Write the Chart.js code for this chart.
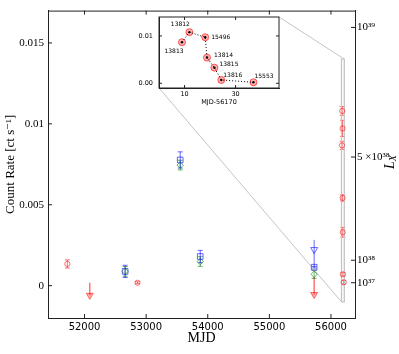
<!DOCTYPE html>
<html>
<head>
<meta charset="utf-8">
<script src="https://cdn.jsdelivr.net/npm/chart.js@4"></script>
<style>
  body { margin: 0; background: #fff; }
  #wrap { position: relative; width: 399px; height: 354px; }
  #main { position: absolute; left: 0; top: 0; }
  #inset { position: absolute; left: 130px; top: 0; }
</style>
</head>
<body>
<div id="wrap">
  <canvas id="main" width="399" height="354"></canvas>
  <canvas id="inset" width="160" height="110"></canvas>
</div>
<script>
// axis ticks
const xTicks = [52000, 53000, 54000, 55000, 56000];
const yTicks = [0, 0.005, 0.01, 0.015];
const yTickLabels = ["0", "0.005", "0.01", "0.015"];
const lxTickRates = [0.00018, 0.00157, 0.00795, 0.01596];
const lxTickLabels = ["10\u00b3\u2077", "10\u00b3\u2078", "5 \u00d710\u00b3\u2078", "10\u00b3\u2079"];

// red detections
const redMjd = [51721, 52860];
const redRate = [0.00134, 0.00018];
const redErr = [0.00025, 0.00006];

// red upper limits (top of arrow, arrow head, end of shaft)
const redUlMjd = [52085, 55727];
const redUlTop = [0.00018, 0.0005];
const redUlHead = [-0.0006, -0.00055];

// blue
const blueMjd = [52659, 53553, 53878, 55727];
const blueRate = [0.00088, 0.00777, 0.0018, 0.00114];
const blueErr = [0.00038, 0.0005, 0.00038, 0.00005];
const blueUlMjd = [55727];
const blueUlTop = [0.00283];
const blueUlHead = [0.00223];
const blueUlEnd = [0.00114];

// green
const greenMjd = [52659, 53553, 53878, 55727];
const greenRate = [0.00088, 0.00745, 0.00149, 0.0007];
const greenErr = [0.0003, 0.0003, 0.0003, 0.00025];

// 2012 observations, days after MJD 56170
const mjdZero = 56170;
const obsIds = ["13813", "13812", "15496", "13814", "13815", "13816", "15553"];
const obsDay = [9.0, 11.9, 18.1, 18.8, 21.7, 24.4, 37.0];
const obsRate = [0.00867, 0.0108, 0.00972, 0.00542, 0.0033, 0.0007, 0.00021];
const obsErr = [0.00025, 0.00027, 0.0005, 0.0002, 0.0003, 0.0001, 0.0001];

// inset axes
const insetXMin = 0, insetXMax = 47;
const insetYMin = -0.001, insetYMax = 0.014;
const insetXTicks = [10, 30];
const insetYTicks = [0, 0.01];

const INSET_LEFT = 130, INSET_TOP = 0;
const serif = "'Liberation Serif', 'DejaVu Serif', serif";
const sans = "'DejaVu Sans', sans-serif";

const RED = "rgba(255,0,0,0.55)";
const BLUE = "rgba(0,0,255,0.6)";
const GREEN = "rgba(0,128,0,0.6)";

function pts(xs, ys) {
  return xs.map((x, i) => ({ x: x, y: ys[i] }));
}

// error bars + upper-limit shafts, drawn through the scales
const errorBars = {
  id: "errorBars",
  beforeDatasetsDraw(chart) {
    const { ctx, scales } = chart;
    ctx.save();
    chart.data.datasets.forEach((ds) => {
      ctx.strokeStyle = ds.borderColor;
      ctx.lineWidth = ds.barWidth || 1;
      if (ds.yErr) {
        ds.data.forEach((p, i) => {
          const px = scales.x.getPixelForValue(p.x);
          const y1 = scales.y.getPixelForValue(p.y - ds.yErr[i]);
          const y2 = scales.y.getPixelForValue(p.y + ds.yErr[i]);
          ctx.beginPath();
          ctx.moveTo(px, y1); ctx.lineTo(px, y2);
          ctx.moveTo(px - 2.5, y1); ctx.lineTo(px + 2.5, y1);
          ctx.moveTo(px - 2.5, y2); ctx.lineTo(px + 2.5, y2);
          ctx.stroke();
        });
      }
      if (ds.ulTop) {
        ds.data.forEach((p, i) => {
          const px = scales.x.getPixelForValue(p.x);
          const end = ds.ulEnd ? ds.ulEnd[i] : p.y;
          ctx.beginPath();
          ctx.moveTo(px, scales.y.getPixelForValue(ds.ulTop[i]));
          ctx.lineTo(px, scales.y.getPixelForValue(end));
          ctx.stroke();
        });
      }
    });
    ctx.restore();
  }
};

const insetChart = new Chart(document.getElementById("inset"), {
  type: "scatter",
  data: {
    datasets: [
      {
        data: pts(obsDay, obsRate),
        showLine: true,
        borderColor: "#000",
        borderWidth: 1,
        borderDash: [1, 2],
        pointRadius: 1.2,
        pointBackgroundColor: "#000",
        pointBorderWidth: 0,
        order: 0,
      },
      {
        data: pts(obsDay, obsRate),
        pointRadius: 3.5,
        pointBackgroundColor: "rgba(255,0,0,0.3)",
        pointBorderColor: "rgba(255,0,0,0.6)",
        pointBorderWidth: 1,
        order: 1,
      },
    ],
  },
  options: {
    responsive: false,
    animation: false,
    layout: { padding: { top: 17, right: 11 } },
    plugins: { legend: { display: false }, tooltip: { enabled: false } },
    scales: {
      x: {
        type: "linear", min: insetXMin, max: insetXMax,
        afterBuildTicks: (s) => { s.ticks = insetXTicks.map((v) => ({ value: v })); },
        afterFit: (s) => { s.height = 22; },
        grid: { display: false, drawTicks: false },
        border: { color: "#222" },
        ticks: { font: { family: sans, size: 6.5 }, color: "#000", padding: 2, maxRotation: 0 },
        title: { display: true, text: "MJD-56170", font: { family: sans, size: 6.5 }, color: "#000", padding: { bottom: 4 } },
      },
      y: {
        min: insetYMin, max: insetYMax,
        afterBuildTicks: (s) => { s.ticks = insetYTicks.map((v) => ({ value: v })); },
        afterFit: (s) => { s.width = 29; },
        grid: { display: false, drawTicks: false },
        border: { color: "#222" },
        ticks: { font: { family: sans, size: 6.5 }, color: "#000", padding: 6, callback: (v) => v.toFixed(2) },
      },
    },
  },
  plugins: [
    {
      id: "insetBox",
      beforeDraw(chart) {
        const a = chart.chartArea;
        chart.ctx.save();
        chart.ctx.fillStyle = "#fff";
        chart.ctx.fillRect(a.left, a.top, a.right - a.left, a.bottom - a.top);
        chart.ctx.restore();
      },
      afterDraw(chart) {
        const { ctx, chartArea: a, scales } = chart;
        ctx.save();
        ctx.strokeStyle = "#222";
        ctx.lineWidth = 1;
        ctx.strokeRect(a.left, a.top, a.right - a.left, a.bottom - a.top);
        ctx.beginPath();
        insetXTicks.forEach((v) => {
          const px = scales.x.getPixelForValue(v);
          ctx.moveTo(px, a.bottom); ctx.lineTo(px, a.bottom - 3);
          ctx.moveTo(px, a.top); ctx.lineTo(px, a.top + 3);
        });
        insetYTicks.forEach((v) => {
          const py = scales.y.getPixelForValue(v);
          ctx.moveTo(a.left, py); ctx.lineTo(a.left + 3, py);
          ctx.moveTo(a.right, py); ctx.lineTo(a.right - 3, py);
        });
        ctx.stroke();
        // observation ids
        const offs = [[-8, 9, "center"], [-9, -8, "center"], [6, 0, "left"], [7, -2, "left"],
                      [5, -3, "left"], [2, -5, "left"], [1, -6, "left"]];
        ctx.fillStyle = "#000";
        ctx.font = "6px " + sans;
        ctx.textBaseline = "middle";
        obsIds.forEach((id, i) => {
          const px = scales.x.getPixelForValue(obsDay[i]);
          const py = scales.y.getPixelForValue(obsRate[i]);
          ctx.textAlign = offs[i][2];
          ctx.fillText(id, px + offs[i][0], py + offs[i][1]);
        });
        ctx.restore();
      },
    },
  ],
});

const mainChart = new Chart(document.getElementById("main"), {
  type: "scatter",
  data: {
    datasets: [
      {
        data: pts(obsDay.map((d) => mjdZero + d), obsRate),
        yErr: obsErr,
        borderColor: RED,
        pointStyle: "circle",
        pointRadius: 2.6,
        pointBackgroundColor: "rgba(0,0,0,0)",
        pointBorderColor: RED,
        pointBorderWidth: 1,
      },
      {
        data: pts(redMjd, redRate),
        yErr: redErr,
        borderColor: RED,
        pointStyle: "circle",
        pointRadius: 2.6,
        pointBackgroundColor: "rgba(0,0,0,0)",
        pointBorderColor: RED,
        pointBorderWidth: 1,
      },
      {
        data: pts(redUlMjd, redUlHead),
        ulTop: redUlTop,
        borderColor: RED,
        barWidth: 1.5,
        pointStyle: "triangle",
        rotation: 180,
        pointRadius: 4,
        pointBackgroundColor: "rgba(255,0,0,0.3)",
        pointBorderColor: RED,
        pointBorderWidth: 1,
      },
      {
        data: pts(greenMjd, greenRate),
        yErr: greenErr,
        borderColor: GREEN,
        pointStyle: "rectRot",
        pointRadius: 3.2,
        pointBackgroundColor: "rgba(0,0,0,0)",
        pointBorderColor: GREEN,
        pointBorderWidth: 1,
      },
      {
        data: pts(blueMjd, blueRate),
        yErr: blueErr,
        borderColor: BLUE,
        pointStyle: "rect",
        pointRadius: 4,
        pointBackgroundColor: "rgba(0,0,0,0)",
        pointBorderColor: BLUE,
        pointBorderWidth: 1,
      },
      {
        data: pts(blueUlMjd, blueUlHead),
        ulTop: blueUlTop,
        ulEnd: blueUlEnd,
        borderColor: BLUE,
        pointStyle: "triangle",
        rotation: 180,
        pointRadius: 4,
        pointBackgroundColor: "rgba(0,0,0,0)",
        pointBorderColor: BLUE,
        pointBorderWidth: 1,
      },
    ],
  },
  options: {
    responsive: false,
    animation: false,
    layout: { padding: { top: 3 } },
    plugins: { legend: { display: false }, tooltip: { enabled: false } },
    scales: {
      x: {
        type: "linear", min: 51407, max: 56390,
        afterBuildTicks: (s) => { s.ticks = xTicks.map((v) => ({ value: v })); },
        afterFit: (s) => { s.height = 36; },
        grid: { display: false, drawTicks: false },
        border: { color: "#222" },
        ticks: { font: { family: sans, size: 10 }, color: "#000", padding: 3, maxRotation: 0, callback: (v) => String(v) },
        title: { display: true, text: "MJD", font: { family: serif, size: 14 }, color: "#000", padding: { bottom: 7 } },
      },
      y: {
        min: -0.002, max: 0.017,
        afterBuildTicks: (s) => { s.ticks = yTicks.map((v) => ({ value: v })); },
        afterFit: (s) => { s.width = 48; },
        grid: { display: false, drawTicks: false },
        border: { color: "#222" },
        ticks: { font: { family: serif, size: 11 }, color: "#000", padding: 4, callback: (v, i) => yTickLabels[i] },
        title: { display: true, text: "Count Rate [ct s\u207b\u00b9]", font: { family: serif, size: 13 }, color: "#000", padding: { top: 3 } },
      },
      y2: {
        position: "right",
        min: -0.002, max: 0.017,
        afterBuildTicks: (s) => { s.ticks = lxTickRates.map((v) => ({ value: v })); },
        afterFit: (s) => { s.width = 44; },
        grid: { display: false, drawTicks: false },
        border: { color: "#222" },
        ticks: { font: { family: serif, size: 11 }, color: "#000", padding: 2, autoSkip: false, callback: (v, i) => lxTickLabels[i] },
      },
    },
  },
  plugins: [
    errorBars,
    {
      id: "zoomBox",
      beforeDatasetsDraw(chart) {
        const { ctx, scales } = chart;
        const l = scales.x.getPixelForValue(mjdZero + insetXMin);
        const r = scales.x.getPixelForValue(mjdZero + insetXMax);
        const t = scales.y.getPixelForValue(insetYMax);
        const b = scales.y.getPixelForValue(insetYMin);
        const ia = insetChart.chartArea;
        ctx.save();
        ctx.strokeStyle = "#c4c4c4";
        ctx.lineWidth = 1.2;
        ctx.fillStyle = "rgba(0,0,0,0.03)";
        ctx.fillRect(l, t, r - l, b - t);
        ctx.strokeRect(l, t, r - l, b - t);
        ctx.lineWidth = 1;
        ctx.beginPath();
        ctx.moveTo(INSET_LEFT + ia.right, INSET_TOP + ia.top);
        ctx.lineTo(r, t);
        ctx.moveTo(INSET_LEFT + ia.left, INSET_TOP + ia.bottom);
        ctx.lineTo(l, b);
        ctx.stroke();
        ctx.restore();
      },
    },
    {
      id: "frameTicks",
      afterDraw(chart) {
        const { ctx, chartArea: a, scales } = chart;
        ctx.save();
        ctx.strokeStyle = "#222";
        ctx.lineWidth = 1;
        ctx.beginPath();
        ctx.moveTo(a.left, a.top + 0.5); ctx.lineTo(a.right, a.top + 0.5);
        xTicks.forEach((v) => {
          const px = scales.x.getPixelForValue(v);
          ctx.moveTo(px, a.bottom); ctx.lineTo(px, a.bottom - 4);
          ctx.moveTo(px, a.top); ctx.lineTo(px, a.top + 4);
        });
        yTicks.forEach((v) => {
          const py = scales.y.getPixelForValue(v);
          ctx.moveTo(a.left, py); ctx.lineTo(a.left + 4, py);
        });
        lxTickRates.forEach((v) => {
          const py = scales.y2.getPixelForValue(v);
          ctx.moveTo(a.right, py); ctx.lineTo(a.right - 4, py);
        });
        ctx.stroke();
        // right axis title L_X
        ctx.translate(390, 162);
        ctx.rotate(-Math.PI / 2);
        ctx.fillStyle = "#000";
        ctx.textBaseline = "middle";
        ctx.textAlign = "left";
        ctx.font = "italic 14px " + serif;
        const wl = ctx.measureText("L").width;
        ctx.font = "italic 10px " + serif;
        const wx = ctx.measureText("X").width;
        const x0 = -(wl + wx) / 2;
        ctx.font = "italic 14px " + serif;
        ctx.fillText("L", x0, 0);
        ctx.font = "italic 10px " + serif;
        ctx.fillText("X", x0 + wl, 3);
        ctx.restore();
      },
    },
  ],
});
</script>
</body>
</html>
